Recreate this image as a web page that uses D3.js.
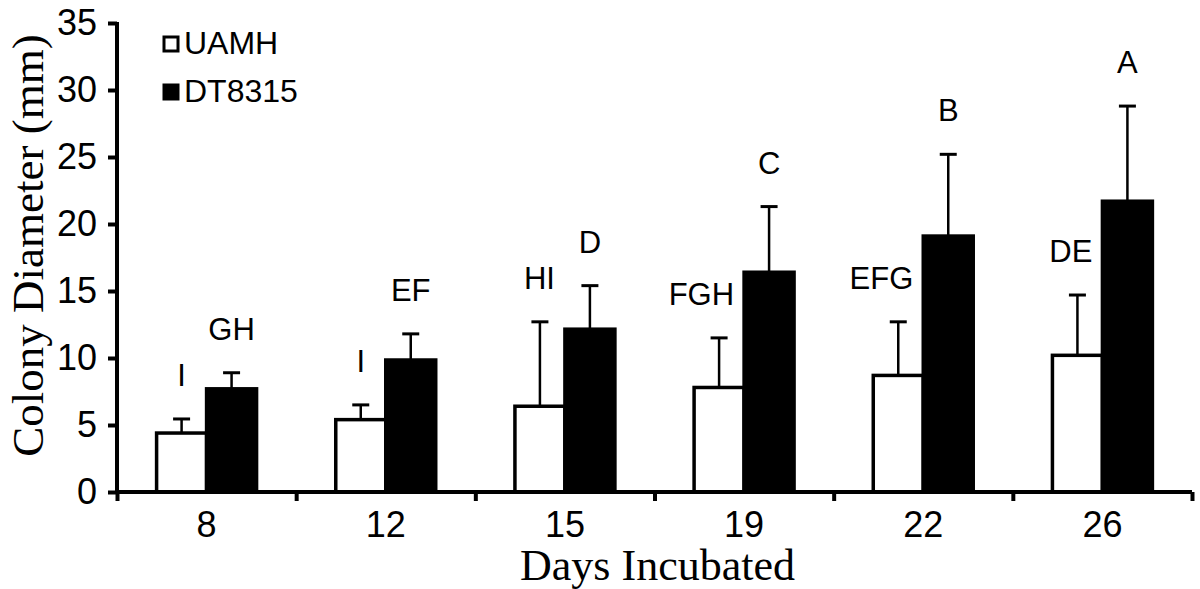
<!DOCTYPE html>
<html>
<head>
<meta charset="utf-8">
<script src="https://cdn.jsdelivr.net/npm/d3@7"></script>
<style>
  html, body { margin: 0; padding: 0; background: #fff; }
  #chart { width: 1200px; height: 589px; }
</style>
</head>
<body>
<div id="chart"></div>
<script>
// ── Data ──────────────────────────────────────────────────────────────────
const days      = ['8', '12', '15', '19', '22', '26'];
const series    = ['UAMH', 'DT8315'];
const uamhMean  = [4.4, 5.4, 6.4, 7.8, 8.7, 10.2];
const uamhErr   = [1.05, 1.1, 6.3, 3.7, 4.0, 4.5];
const dtMean    = [7.7, 9.85, 12.15, 16.4, 19.1, 21.7];
const dtErr     = [1.2, 1.95, 3.25, 4.9, 6.1, 7.1];
const uamhLetters = ['I', 'I', 'HI', 'FGH', 'EFG', 'DE'];
const dtLetters   = ['GH', 'EF', 'D', 'C', 'B', 'A'];
const yTicks    = [0, 5, 10, 15, 20, 25, 30, 35];

const SANS  = '"Liberation Sans", Arial, Helvetica, sans-serif';
const SERIF = '"Liberation Serif", "Times New Roman", serif';

const rows = days.map((d, i) => ({
  day: d,
  bars: [
    { key: 'UAMH',   mean: uamhMean[i], err: uamhErr[i], letter: uamhLetters[i] },
    { key: 'DT8315', mean: dtMean[i],   err: dtErr[i],   letter: dtLetters[i] },
  ],
}));

const totalW = 1200, totalH = 589;
const margin = { top: 23, right: 8, bottom: 97, left: 117 };
const width  = totalW - margin.left - margin.right;
const height = totalH - margin.top - margin.bottom;

// ── Scales ────────────────────────────────────────────────────────────────
const pad = 0.442;
const x0 = d3.scaleBand().domain(days).range([0, width])
  .paddingInner(pad).paddingOuter(pad / 2);
const x1 = d3.scaleBand().domain(series).range([0, x0.bandwidth()]);
const xb = d3.scaleLinear().domain([0, days.length]).range([0, width]);
const y  = d3.scaleLinear().domain([0, 35]).range([height, 0]);

const svg = d3.select('#chart').append('svg')
  .attr('width', totalW).attr('height', totalH);

const g = svg.append('g')
  .attr('transform', `translate(${margin.left},${margin.top})`);

// ── Bars ──────────────────────────────────────────────────────────────────
const groups = g.selectAll('.grp').data(rows).enter().append('g')
  .attr('transform', d => `translate(${x0(d.day)},0)`);

groups.selectAll('rect').data(d => d.bars).enter().append('rect')
  .attr('x', d => x1(d.key))
  .attr('y', d => y(d.mean))
  .attr('width', x1.bandwidth())
  .attr('height', d => y(0) - y(d.mean))
  .attr('fill', d => d.key === 'UAMH' ? '#fff' : '#000')
  .attr('stroke', '#000')
  .attr('stroke-width', 3.5);

// ── Error bars (upper only) ──────────────────────────────────────────────
const capW = 17;
const mid = d => x1(d.key) + x1.bandwidth() / 2;

groups.selectAll('.err').data(d => d.bars).enter().append('line')
  .attr('x1', mid).attr('x2', mid)
  .attr('y1', d => y(d.mean))
  .attr('y2', d => y(d.mean + d.err))
  .attr('stroke', '#000').attr('stroke-width', 2.5);

groups.selectAll('.cap').data(d => d.bars).enter().append('line')
  .attr('x1', d => mid(d) - capW / 2)
  .attr('x2', d => mid(d) + capW / 2)
  .attr('y1', d => y(d.mean + d.err))
  .attr('y2', d => y(d.mean + d.err))
  .attr('stroke', '#000').attr('stroke-width', 3);

// ── Significance letters ──────────────────────────────────────────────────
// UAMH letters are nudged left so they never run into the black bar
groups.selectAll('.lbl').data(d => d.bars).enter().append('text')
  .attr('y', d => y(d.mean + d.err) - 33)
  .attr('text-anchor', 'middle')
  .attr('font-family', SANS)
  .attr('font-size', '31px')
  .attr('fill', '#000')
  .text(d => d.letter)
  .each(function(d) {
    let cx = mid(d);
    if (d.key === 'UAMH') {
      const w = this.getComputedTextLength();
      cx = Math.min(cx, x1('DT8315') - 10 - w / 2);
    }
    d3.select(this).attr('x', cx);
  });

// ── Axes ──────────────────────────────────────────────────────────────────
g.append('g')
  .call(d3.axisLeft(y).tickValues(yTicks).tickSize(9).tickPadding(11))
  .call(ax => ax.select('.domain').attr('stroke-width', 4).attr('d', `M0,${height + 2}V-1`))
  .call(ax => ax.selectAll('.tick line').attr('stroke-width', 4))
  .call(ax => ax.selectAll('.tick text')
    .attr('font-family', SANS).attr('font-size', '36px').attr('fill', '#000'));

// category boundary ticks
g.append('g')
  .attr('transform', `translate(0,${height})`)
  .call(d3.axisBottom(xb).tickValues(d3.range(days.length + 1)).tickSize(9).tickFormat(''))
  .call(ax => ax.select('.domain').attr('stroke-width', 4).attr('d', `M-2,0H${width}`))
  .call(ax => ax.selectAll('.tick line').attr('stroke-width', 4));

// category labels
g.append('g')
  .attr('transform', `translate(0,${height})`)
  .call(d3.axisBottom(x0).tickSize(0).tickPadding(19))
  .call(ax => ax.select('.domain').remove())
  .call(ax => ax.selectAll('.tick text')
    .attr('font-family', SANS).attr('font-size', '36px').attr('fill', '#000'));

// axis titles
g.append('text')
  .attr('x', width / 2 + 3)
  .attr('y', height + 88)
  .attr('text-anchor', 'middle')
  .attr('font-family', SERIF)
  .attr('font-size', '44px')
  .attr('fill', '#000')
  .text('Days Incubated');

g.append('text')
  .attr('transform', 'rotate(-90)')
  .attr('x', -height / 2 + 12)
  .attr('y', -74)
  .attr('text-anchor', 'middle')
  .attr('font-family', SERIF)
  .attr('font-size', '45px')
  .attr('fill', '#000')
  .text('Colony Diameter (mm)');

// ── Legend ────────────────────────────────────────────────────────────────
const legend = g.append('g').attr('transform', 'translate(47,14)');
series.forEach((s, i) => {
  const row = legend.append('g').attr('transform', `translate(0,${i * 48})`);
  row.append('rect')
    .attr('x', 0).attr('y', 0)
    .attr('width', 14).attr('height', 14)
    .attr('fill', s === 'UAMH' ? '#fff' : '#000')
    .attr('stroke', '#000').attr('stroke-width', 3);
  row.append('text')
    .attr('x', 20).attr('y', 17)
    .attr('font-family', SANS)
    .attr('font-size', '32px')
    .attr('fill', '#000')
    .text(s);
});
</script>
</body>
</html>
